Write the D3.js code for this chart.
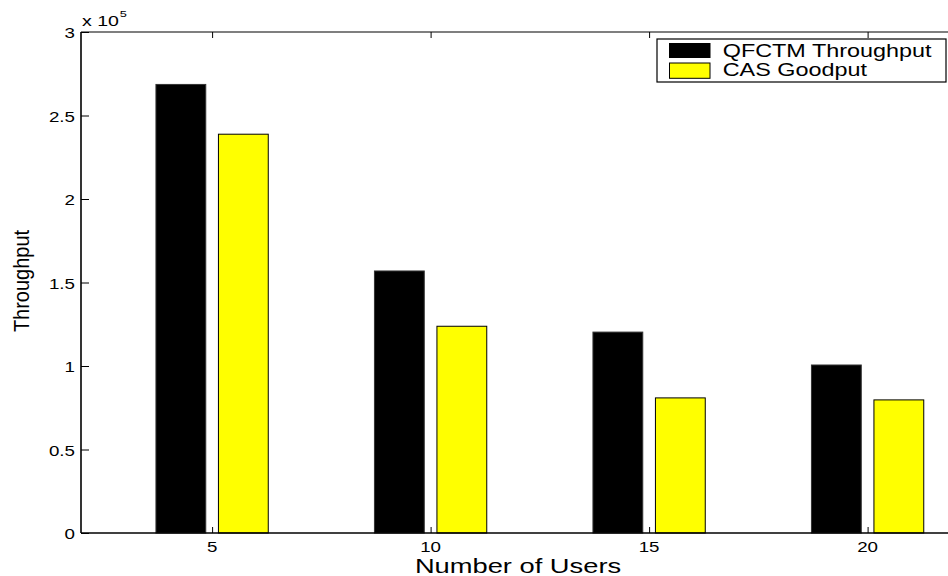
<!DOCTYPE html>
<html>
<head>
<meta charset="utf-8">
<script src="https://cdn.jsdelivr.net/npm/d3@7"></script>
<style>
  html, body { margin: 0; padding: 0; background: #fff; }
  svg { display: block; }
  text { font-family: "Liberation Sans", Arial, Helvetica, sans-serif; fill: #000; }
</style>
</head>
<body>
<svg id="chart" width="948" height="576"></svg>
<script>
// Number of users on the x axis
const users = [5, 10, 15, 20];
// Throughput values (bits/s)
const qfctmThroughput = [268600, 156900, 120300, 100600];
const casGoodput = [238800, 123800, 80900, 79700];
const seriesNames = ["QFCTM Throughput", "CAS Goodput"];
const seriesColors = ["#000000", "#ffff00"];
const yTicks = [0, 0.5, 1, 1.5, 2, 2.5, 3];
const xTicks = [5, 10, 15, 20];

const svg = d3.select("#chart");
const plotLeft = 81, plotTop = 32, plotBottom = 533;

// x domain runs past the visible right edge, as in the exported figure
const x = d3.scaleLinear().domain([2, 23]).range([plotLeft, plotLeft + 21 * 43.7]);
const y = d3.scaleLinear().domain([0, 3e5]).range([plotBottom, plotTop]);

const barW = 1.14;     // bar width in x units
const offset = 0.715;  // half distance between paired bar centres

const series = [qfctmThroughput, casGoodput];
series.forEach((vals, si) => {
  svg.append("g").selectAll("rect")
    .data(users.map((u, i) => ({ u, v: vals[i] })))
    .join("rect")
    .attr("x", d => x(d.u + (si === 0 ? -offset : offset) - barW / 2))
    .attr("width", d => x(d.u + barW / 2) - x(d.u - barW / 2))
    .attr("y", d => y(d.v))
    .attr("height", d => y(0) - y(d.v))
    .attr("fill", seriesColors[si])
    .attr("stroke", si === 0 ? "#333" : "#000")
    .attr("stroke-width", 1);
});

const sx = 1.25; // horizontal stretch of the tick lettering

// Left axis with inward ticks
const yAxis = d3.axisRight(y)
  .tickValues(yTicks.map(t => t * 1e5))
  .tickSize(8)
  .tickFormat("");
const gy = svg.append("g").attr("transform", `translate(${plotLeft},0)`).call(yAxis);
gy.select(".domain").remove();
gy.selectAll(".tick line").attr("stroke", "#000");
svg.append("g").selectAll("text")
  .data(yTicks)
  .join("text")
  .attr("transform", t => `translate(${plotLeft - 6},${y(t * 1e5)}) scale(${sx},1)`)
  .attr("text-anchor", "end")
  .attr("dy", "0.4em")
  .attr("font-size", 15)
  .text(t => t);

// Bottom axis with inward ticks
const xAxis = d3.axisTop(x).tickValues(xTicks).tickSize(6).tickFormat("");
const gx = svg.append("g").attr("transform", `translate(0,${plotBottom})`).call(xAxis);
gx.select(".domain").remove();
gx.selectAll(".tick line").attr("stroke", "#000");
svg.append("g").selectAll("text")
  .data(xTicks)
  .join("text")
  .attr("transform", t => `translate(${x(t)},551.5) scale(${sx},1)`)
  .attr("text-anchor", "middle")
  .attr("font-size", 15)
  .text(t => t);

// Top frame with mirrored ticks
const xTop = d3.axisBottom(x).tickValues(xTicks).tickSize(6).tickFormat("");
const gt = svg.append("g").attr("transform", `translate(0,${plotTop})`).call(xTop);
gt.select(".domain").remove();
gt.selectAll(".tick line").attr("stroke", "#000");

// Axis lines
svg.append("line").attr("x1", plotLeft).attr("x2", 948).attr("y1", plotTop).attr("y2", plotTop)
  .attr("stroke", "#000").attr("stroke-width", 1.2);
svg.append("line").attr("x1", plotLeft).attr("x2", 948).attr("y1", plotBottom).attr("y2", plotBottom)
  .attr("stroke", "#000").attr("stroke-width", 1.6);
svg.append("line").attr("x1", plotLeft).attr("x2", plotLeft).attr("y1", plotTop).attr("y2", plotBottom)
  .attr("stroke", "#000").attr("stroke-width", 1.6);

// Exponent label
const expo = svg.append("text")
  .attr("transform", `translate(${plotLeft + 1},26) scale(1.35,1)`)
  .attr("font-size", 14.5);
expo.append("tspan").text("x 10");
expo.append("tspan").attr("font-size", 9.5).attr("dy", -9).attr("dx", 0.5).text("5");

// Axis titles
svg.append("text")
  .attr("transform", `translate(518,572.5) scale(1.3,1)`)
  .attr("text-anchor", "middle")
  .attr("font-size", 21)
  .text("Number of Users");
svg.append("text")
  .attr("transform", `translate(28.5,281) rotate(-90) scale(0.93,1)`)
  .attr("text-anchor", "middle")
  .attr("font-size", 21.5)
  .text("Throughput");

// Legend
const lg = svg.append("g");
lg.append("rect").attr("x", 657).attr("y", 39).attr("width", 289).attr("height", 43)
  .attr("fill", "#fff").attr("stroke", "#000").attr("stroke-width", 1.2);
const legendRows = [{ y0: 43.5, h: 14, base: 57 }, { y0: 63, h: 15.3, base: 76 }];
seriesNames.forEach((name, i) => {
  const r = legendRows[i];
  lg.append("rect").attr("x", 669.5).attr("y", r.y0).attr("width", 40.5).attr("height", r.h)
    .attr("fill", seriesColors[i]).attr("stroke", "#000").attr("stroke-width", 1);
  lg.append("text")
    .attr("transform", `translate(722.7,${r.base}) scale(1.3,1)`)
    .attr("font-size", 18)
    .text(name);
});
</script>
</body>
</html>
